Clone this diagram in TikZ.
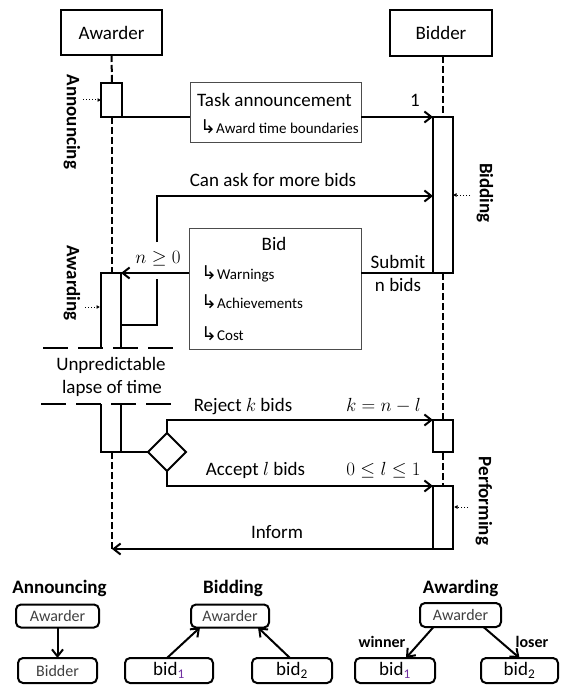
\RequirePackage{fix-cm}
\documentclass[tikz,border=0pt]{standalone}
\usepackage{fontspec}
\setmainfont{Carlito}
\newfontfamily\symfont{DejaVu Sans}
\usetikzlibrary{arrows.meta,shapes.geometric,calc}
\newcommand\fsA{\fontsize{19}{21}\selectfont}
\newcommand\fsB{\fontsize{15}{17}\selectfont}
\newcommand\fsC{\fontsize{16}{18}\selectfont}
\newcommand\hook{{\symfont\fontsize{19}{19}\selectfont ↳}}
\definecolor{subpurple}{RGB}{112,48,160}
\definecolor{boxgray}{RGB}{64,64,64}
\begin{document}
\begin{tikzpicture}[x=1pt,y=-1pt,
  ln/.style={line width=2pt},
  msg/.style={line width=2pt,-{Straight Barb[length=7pt,width=11pt]}},
  life/.style={line width=2pt, dash pattern=on 7pt off 3pt},
  act/.style={draw, line width=2pt, fill=white, outer sep=0pt, inner sep=0pt, minimum width=20pt},
  head/.style={draw, line width=2pt, outer sep=0pt, inner sep=0pt, font=\fsA},
  note/.style={draw=black!70, line width=1pt, outer sep=0pt, inner sep=0pt},
  txt/.style={inner sep=0pt, anchor=base, font=\fsA},
  stxt/.style={inner sep=0pt, anchor=base west, font=\fsB},
  side/.style={inner sep=0pt, rotate=-90, font=\fsA\bfseries},
  hint/.style={line width=1pt, dotted, -{Latex[length=3.5pt,width=4pt]}},
  brk/.style={line width=2.5pt, dash pattern=on 25pt off 10pt},
  rbox/.style={draw, line width=2pt, rounded corners=5pt, inner sep=0pt, outer sep=0pt},
]
\useasboundingbox (0,0) rectangle (560,687);

% heads
\node[head, minimum width=101pt, minimum height=45pt] (awarder) at (111.5,32.5) {Awarder};
\node[head, minimum width=102pt, minimum height=46pt] (bidder) at (441,33) {Bidder};

% coordinates
\coordinate (awdMid) at (112,273);
\coordinate (awdTL) at (101,273);
\coordinate (awdTR) at (121,273);
\coordinate (awdBL1) at (101,348);
\coordinate (awdBR1) at (121,348);
\coordinate (awdTL2) at (101,404);
\coordinate (awdTR2) at (121,404);
\coordinate (awdBL) at (101,452);
\coordinate (awdBR) at (121,452);
\coordinate (awdLow) at (112,452);
\coordinate (informEnd) at (112,549);
\coordinate (loopA) at (121,325);
\coordinate (loopB) at (157,325);
\coordinate (loopC) at (157,279);
\coordinate (loopD) at (157,242);
\coordinate (loopE) at (157,196);

% lifelines
\draw[life] (awarder.south) -- (112,83) coordinate (annTop);
\draw[life] (112,117) coordinate (annBot) -- (awdMid);
\draw[life] (443,56) coordinate (bidTopL) -- (443,117);
\draw[life] (443,273) -- (443,486);
\draw[life] (awdLow) -- (informEnd);

% activation boxes
\node[act, minimum width=21pt, minimum height=34pt] (annAct) at (111.5,100) {};
\node[act, minimum height=156pt] (bidAct) at (443,195) {};
\node[act, minimum height=32pt] (rejAct) at (443,436) {};
\node[act, minimum height=63pt] (perfAct) at (443,517.5) {};

% awarding activation (broken)
\draw[ln] (awdBL1) -- (awdTL) -- (awdTR) -- (awdBR1);
\draw[ln] (awdTL2) -- (awdBL) -- (awdBR);
\draw[ln] (awdTR2) -- (awdBR);

% break lines
\draw[brk] (43,348) coordinate (brkA1) -- (173,348) coordinate (brkA2);
\draw[brk] (41,404) coordinate (brkB1) -- (171,404) coordinate (brkB2);
\node[txt] (lapse1) at (111,370) {Unpredictable};
\node[txt] (lapse2) at (112,393) {lapse of time};

% task announcement
\node[note, minimum width=171pt, minimum height=60pt] (task) at (275.5,113) {};
\node[txt, anchor=base west] (taskT) at (197,107) {Task announcement};
\node[stxt] (taskS) at (200,134) {\hook Award time boundaries};
\draw[ln] (annAct.south east) -- (task.west |- annAct.south east);
\draw[msg] (task.east |- annAct.south east) -- (bidAct.north west);
\node[txt] (one) at (415,107) {1};

% can ask for more bids
\draw[msg] (loopD) -- (loopE) -- (bidAct.west |- loopE);
\draw[ln] (awdTR |- loopA) -- (loopB) -- (loopC);
\node[txt] (canask) at (273,186) {Can ask for more bids};
\node[txt] (ngeq) at (158,263) {$n\geq 0$};

% bid box
\node[note, minimum width=172pt, minimum height=121pt] (bid) at (275,288.5) {};
\node[txt] (bidT) at (274,250) {Bid};
\node[stxt] (bidW) at (201,279) {\hook Warnings};
\node[stxt] (bidA) at (201,308) {\hook Achievements};
\node[stxt] (bidC) at (201,340) {\hook Cost};
\draw[ln] (bidAct.south west) -- (bid.east |- bidAct.south west);
\draw[msg] (bid.west |- bidAct.south west) -- (awdTR);
\node[txt] (submit1) at (398,268) {Submit};
\node[txt] (submit2) at (398,291) {n bids};

% decision
\node[diamond, draw, line width=2pt, fill=white, minimum width=38pt, minimum height=38pt, inner sep=0pt, outer sep=0pt] (dia) at (167,452) {};
\draw[ln] (awdBL) -- (dia.west);
\draw[msg] (dia.north) |- (rejAct.north west);
\draw[msg] (dia.south) |- (perfAct.north west);
\node[txt] (rej) at (243,411) {Reject $k$ bids};
\node[txt] (keq) at (383.5,411) {$k=n-l$};
\node[txt] (acc) at (255.5,475) {Accept $l$ bids};
\node[txt] (leq) at (383.5,475) {$0\leq l\leq 1$};

% inform
\draw[msg] (perfAct.south west) -- (informEnd);
\node[txt] (inform) at (277,538) {Inform};

% side labels
\node[side] (sAnn) at (72,122) {Announcing};
\node[side] (sAwd) at (72,283) {Awarding};
\node[side] (sBid) at (485,193) {Bidding};
\node[side] (sPerf) at (484,501) {Performing};
\coordinate (hAnn) at (83,100);
\coordinate (hAwd) at (85,307);
\coordinate (hAwdE) at (100,307);
\coordinate (hBid) at (470,195);
\coordinate (hPerf) at (468,507);
\coordinate (hPerfE) at (454,507);
\draw[hint] (hAnn) -- (annAct.west);
\draw[hint] (hAwd) -- (hAwdE);
\draw[hint] (hBid) -- (bidAct.east);
\draw[hint] (hPerf) -- (hPerfE);

% bottom: Announcing
\node[txt, font=\fsA\bfseries] (tAnn) at (59.5,593) {Announcing};
\node[rbox, minimum width=83pt, minimum height=23pt, font=\fsC, text=boxgray] (aw1) at (57.5,616) {Awarder};
\node[rbox, minimum width=79pt, minimum height=25pt, font=\fsC, text=boxgray] (bd1) at (57.5,670.5) {Bidder};
\draw[msg] (aw1.south) -- (bd1.north);

% bottom: Bidding
\node[txt, font=\fsA\bfseries] (tBid) at (233,593) {Bidding};
\node[rbox, minimum width=78pt, minimum height=23pt, font=\fsC, text=boxgray] (aw2) at (230,616) {Awarder};
\node[rbox, minimum width=88pt, minimum height=25pt, font=\fsA] (bb1) at (169,670.5) {bid\textsubscript{\color{subpurple}1}};
\node[rbox, minimum width=80pt, minimum height=25pt, font=\fsA] (bb2) at (292,670.5) {bid\textsubscript{2}};
\draw[msg] ($(bb1.north)+(-2,0)$) -- ($(aw2.south)+(-30,0)$);
\draw[msg] ($(bb2.north)+(-2,0)$) -- ($(aw2.south)+(28,0)$);

% bottom: Awarding
\node[txt, font=\fsA\bfseries] (tAwd) at (460.5,593) {Awarding};
\node[rbox, minimum width=81pt, minimum height=24pt, font=\fsC, text=boxgray] (aw3) at (460.5,615) {Awarder};
\node[rbox, minimum width=80pt, minimum height=25pt, font=\fsA] (bb3) at (395,670.5) {bid\textsubscript{\color{subpurple}1}};
\node[rbox, minimum width=77pt, minimum height=25pt, font=\fsA] (bb4) at (519.5,670.5) {bid\textsubscript{2}};
\draw[msg] ($(aw3.south)+(-27,0)$) -- ($(bb3.north)+(11,0)$);
\draw[msg] ($(aw3.south)+(23,0)$) -- (bb4.north);
\node[txt, font=\fsC\bfseries] (win) at (382,647) {winner};
\node[txt, font=\fsC\bfseries] (los) at (532,647) {loser};
\end{tikzpicture}
\end{document}
